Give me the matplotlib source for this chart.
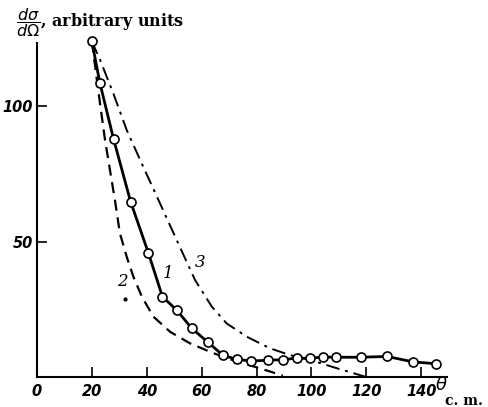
import numpy as np
import matplotlib.pyplot as plt

# Curve 1: measured points (open circles)
theta1 = [20, 22.9, 27.9, 34.1, 40.6, 45.7, 51.0, 56.3, 62.3, 67.8, 72.9, 78.1,
          84.1, 89.6, 94.7, 99.3, 104.2, 109.1, 118.2, 127.6, 136.9, 145.4]
sigma1 = [124, 108.7, 87.9, 64.8, 45.8, 29.7, 24.6, 18.1, 12.8, 8.0, 6.5, 5.9,
          6.2, 6.4, 7.0, 6.9, 7.4, 7.3, 7.3, 7.6, 5.6, 4.9]

# Curve 2: dashed
theta2 = [20, 22.3, 24.8, 28.4, 30.2, 32.7, 35.1, 38.2, 42.4, 48.5, 55.8, 64.3,
          72.8, 81.3, 89.6]
sigma2 = [124, 106.0, 87.5, 65.3, 53.1, 44.4, 37.1, 29.7, 22.3, 16.7, 12.4, 8.8,
          5.7, 3.2, 0.5]

# Curve 3: dash-dot
theta3 = [20, 23.0, 27.8, 32.7, 38.7, 44.8, 50.9, 57.6, 63.7, 69.1, 76.4, 84.9,
          92.2, 99.5, 110, 120]
sigma3 = [124, 117.1, 104.8, 91.2, 77.7, 64.2, 50.6, 35.8, 26.0, 19.8, 14.9, 10.6,
          8.1, 6.3, 3.0, 0]

stray = (32.1, 28.8)

xticks = [0, 20, 40, 60, 80, 100, 120, 140]
yticks = [50, 100]

fig = plt.figure(figsize=(4.88, 4.07), dpi=100)
ax = fig.add_axes([37 / 488, 30 / 407, 410 / 488, 334 / 407])

ax.plot(theta2, sigma2, color='black', lw=1.6, ls=(0, (5, 3)), clip_on=False)
ax.plot(theta3, sigma3, color='black', lw=1.4, ls=(0, (7, 3, 1.5, 3)), clip_on=False)
ax.plot(theta1, sigma1, color='black', lw=2.0, marker='o', ms=6.5,
        mfc='white', mec='black', mew=1.2, clip_on=False, zorder=5)
ax.plot(*stray, marker='o', ms=2, color='black')

ax.text(45.8, 36.5, '1', fontsize=12, style='italic', family='DejaVu Serif')
ax.text(29, 33.5, '2', fontsize=12, style='italic', family='DejaVu Serif')
ax.text(57.5, 40.5, '3', fontsize=12, style='italic', family='DejaVu Serif')

ax.set_xlim(0, 149.4)
ax.set_ylim(0, 123.4)
ax.set_xticks(xticks)
ax.set_yticks(yticks)
ax.spines['top'].set_visible(False)
ax.spines['right'].set_visible(False)
ax.spines['left'].set_linewidth(1.5)
ax.spines['bottom'].set_linewidth(1.5)
ax.tick_params(direction='in', length=7, width=1.2, pad=5)
for lab in ax.get_xticklabels() + ax.get_yticklabels():
    lab.set_fontstyle('italic')
    lab.set_fontweight('bold')
    lab.set_fontsize(10.5)
    lab.set_family('DejaVu Sans')
ax.tick_params(axis='y', pad=3)

fig.text(0.033, 0.945, r'$\dfrac{d\sigma}{d\Omega}$, arbitrary units', fontsize=11.5,
         family='DejaVu Serif', fontweight='bold', va='center')
fig.text(441 / 488, 1 - 385 / 407, r'$\theta$', fontsize=13, ha='center', va='center')
fig.text(464 / 488, 1 - 401 / 407, 'c. m.', fontsize=10, family='DejaVu Serif',
         fontweight='bold', ha='center', va='center')

fig.savefig('out.png', dpi=100)
